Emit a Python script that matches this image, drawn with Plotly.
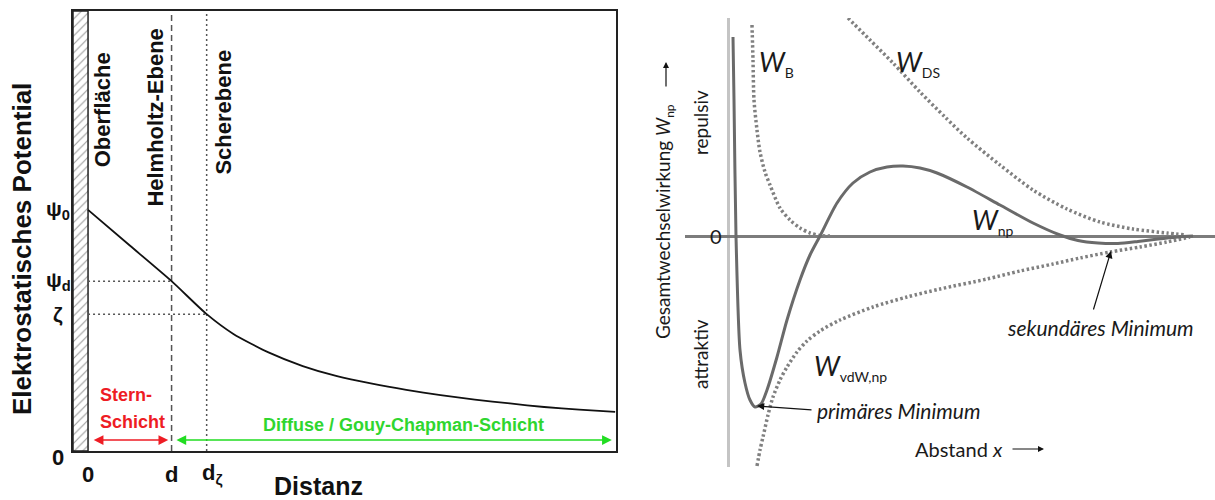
import plotly.graph_objects as go

W, H = 1215, 500
def px(x):
    return x / W
def py(y):
    return 1 - y / H

# ---------------- Left panel data (Stern model) ----------------
pot_x = [0.0, 0.5, 1.0, 1.42, 1.74, 2.16, 2.57, 2.98, 3.40, 3.81, 4.22, 4.63, 5.05, 5.46, 5.88, 6.31]
pot_y = [0.548, 0.467, 0.386, 0.311, 0.266, 0.224, 0.193, 0.170, 0.153, 0.139, 0.127, 0.117, 0.108, 0.100, 0.094, 0.089]
d_pos = 1.0
dz_pos = 1.42
psi0 = 0.548
psid = 0.386
zeta = 0.311
left_ytick_vals = [0.0, zeta, psid, psi0]
left_ytick_text = ["0", "ζ", "ψ<sub>d</sub>", "ψ<sub>0</sub>"]
left_xtick_vals = [0.0, d_pos, dz_pos]
left_xtick_text = ["0", "d", "d<sub>ζ</sub>"]
plane_labels = ["Oberfläche", "Helmholtz-Ebene", "Scherebene"]
plane_label_x = [0.17, 0.81, 1.62]
plane_label_y = [0.775, 0.757, 0.770]

# ---------------- Right panel data (DLVO) ----------------
wnp_x = [0.10, 0.12, 0.16, 0.24, 0.34, 0.44, 0.54, 0.66, 0.78, 0.98, 1.18, 1.44, 1.64, 1.84, 2.18, 2.50,
         2.84, 3.18, 3.50, 3.84, 4.18, 4.78, 5.44, 6.10, 6.64, 7.00, 7.40, 7.80, 8.20, 8.60, 9.00, 9.30]
wnp_y = [3.98, 2.72, 0.0, -2.28, -2.94, -3.28, -3.42, -3.36, -3.08, -2.42, -1.68, -0.88, -0.38, 0.0, 0.66, 1.06,
         1.28, 1.38, 1.40, 1.36, 1.26, 0.98, 0.62, 0.26, 0.02, -0.09, -0.14, -0.15, -0.11, -0.06, -0.02, 0.0]
wb_x = [0.48, 0.50, 0.52, 0.58, 0.64, 0.74, 0.84, 1.04, 1.24, 1.44, 1.64, 1.84, 2.04]
wb_y = [4.22, 3.52, 2.72, 2.12, 1.68, 1.28, 1.02, 0.56, 0.32, 0.16, 0.06, 0.01, 0.0]
wds_x = [2.40, 2.84, 3.30, 3.84, 4.34, 4.78, 5.44, 6.10, 6.78, 7.44, 8.10, 8.78, 9.14]
wds_y = [4.36, 3.92, 3.46, 2.88, 2.38, 1.96, 1.42, 0.92, 0.54, 0.28, 0.14, 0.06, 0.02]
wvdw_x = [0.58, 0.64, 0.70, 0.80, 0.90, 1.04, 1.18, 1.38, 1.58, 1.84, 2.24, 2.90, 3.58, 4.24, 5.18, 5.84,
          6.50, 7.04, 7.64, 8.24, 8.78, 9.24]
wvdw_y = [-4.60, -4.28, -4.02, -3.58, -3.22, -2.88, -2.62, -2.32, -2.10, -1.90, -1.68, -1.42, -1.22, -1.06,
          -0.86, -0.70, -0.56, -0.44, -0.32, -0.22, -0.12, -0.02]
prim_min = (0.58, -3.40)
sek_min = (7.66, -0.30)

fig = go.Figure()

# hatched surface strip
fig.add_trace(go.Scatter(x=[-0.18, 0, 0, -0.18, -0.18], y=[0, 0, 1, 1, 0], fill="toself",
                         fillcolor="white",
                         fillpattern=dict(shape="/", fgcolor="#333333", bgcolor="white", size=6, solidity=0.18),
                         line=dict(color="#222222", width=1.5), mode="lines",
                         xaxis="x", yaxis="y", hoverinfo="skip"))
# reference lines
fig.add_trace(go.Scatter(x=[d_pos, d_pos], y=[0, 1], mode="lines",
                         line=dict(color="#555555", width=1.5, dash="6px,4px"), xaxis="x", yaxis="y"))
fig.add_trace(go.Scatter(x=[dz_pos, dz_pos], y=[0, 1], mode="lines",
                         line=dict(color="#555555", width=1.5, dash="2px,3px"), xaxis="x", yaxis="y"))
fig.add_trace(go.Scatter(x=[0, d_pos], y=[psid, psid], mode="lines",
                         line=dict(color="#555555", width=1.5, dash="2px,3px"), xaxis="x", yaxis="y"))
fig.add_trace(go.Scatter(x=[0, dz_pos], y=[zeta, zeta], mode="lines",
                         line=dict(color="#555555", width=1.5, dash="2px,3px"), xaxis="x", yaxis="y"))
# potential curve
fig.add_trace(go.Scatter(x=pot_x, y=pot_y, mode="lines",
                         line=dict(color="#111111", width=1.8, shape="spline", smoothing=0.6),
                         xaxis="x", yaxis="y"))

# right panel curves
dotted = dict(color="#808080", width=3.5, dash="2.5px,2.5px", shape="spline", smoothing=0.8)
fig.add_trace(go.Scatter(x=wb_x, y=wb_y, mode="lines", line=dotted, xaxis="x2", yaxis="y2"))
fig.add_trace(go.Scatter(x=wds_x, y=wds_y, mode="lines", line=dotted, xaxis="x2", yaxis="y2"))
fig.add_trace(go.Scatter(x=wvdw_x, y=wvdw_y, mode="lines", line=dotted, xaxis="x2", yaxis="y2"))
fig.add_trace(go.Scatter(x=wnp_x, y=wnp_y, mode="lines",
                         line=dict(color="#6a6a6a", width=3, shape="spline", smoothing=0.7),
                         xaxis="x2", yaxis="y2"))

ann = []
def A(**kw):
    kw.setdefault("xanchor", "center")
    kw.setdefault("yanchor", "middle")
    kw.setdefault("showarrow", False)
    ann.append(kw)

BF = "Liberation Sans"
# left y tick labels
for v, t in zip(left_ytick_vals, left_ytick_text):
    A(x=px(58), xref="paper", y=v, yref="y", text=t,
      yshift=-6 if v == 0 else 0,
      font=dict(family=BF, size=22 if v == 0 else 21, color="#111", weight="bold"))
# left x tick labels
for i, (v, t) in enumerate(zip(left_xtick_vals, left_xtick_text)):
    A(x=v, xref="x", y=py(474), yref="paper", text=t,
      xanchor="left" if i == 2 else "center", xshift=-7 if i == 2 else 0,
      font=dict(family=BF, size=22, color="#111", weight="bold"))
# plane labels
for t, xv, yv in zip(plane_labels, plane_label_x, plane_label_y):
    A(x=xv, xref="x", y=yv, yref="y", text=t, textangle=-90,
      font=dict(family=BF, size=22, color="#111", weight="bold"))
# axis titles left
A(x=px(22), y=py(249), xref="paper", yref="paper", text="Elektrostatisches Potential",
  textangle=-90, font=dict(family=BF, size=26, color="#111", weight="bold"))
A(x=px(318), y=py(486), xref="paper", yref="paper", text="Distanz",
  font=dict(family=BF, size=25, color="#111", weight="bold"))
# Stern / diffuse layer
red = "#ee1c24"
green = "#22dd22"
A(x=px(98), y=py(395), xref="paper", yref="paper", text="Stern-", xanchor="left",
  font=dict(family=BF, size=18, color=red, weight="bold"))
A(x=px(98), y=py(422), xref="paper", yref="paper", text="Schicht", xanchor="left",
  font=dict(family=BF, size=18, color=red, weight="bold"))
A(x=px(403), y=py(425), xref="paper", yref="paper", text="Diffuse / Gouy-Chapman-Schicht",
  font=dict(family=BF, size=18, color="#2fd62f", weight="bold"))
arr_y = 0.025
ann.append(dict(x=0.96, y=arr_y, xref="x", yref="y", ax=0.05, ay=arr_y, axref="x", ayref="y", text="",
                showarrow=True, arrowside="end+start", arrowhead=2, startarrowhead=2, arrowsize=1.3,
                startarrowsize=1.3, arrowwidth=1.5, arrowcolor=red))
ann.append(dict(x=6.27, y=arr_y, xref="x", yref="y", ax=1.04, ay=arr_y, axref="x", ayref="y", text="",
                showarrow=True, arrowside="end+start", arrowhead=2, startarrowhead=2, arrowsize=1.3,
                startarrowsize=1.3, arrowwidth=1.5, arrowcolor=green))

# right panel texts
RF = "Lato"
TC = "#1a1a1a"
def wlabel(sub):
    return "<i>W</i><sub><span style='font-size:14px'>" + sub + "</span></sub>"
A(x=px(716), y=py(236), xref="paper", yref="paper", text="0", font=dict(family=RF, size=20, color=TC))
A(x=px(757), y=py(63), xref="paper", yref="paper", text=wlabel("B"), xanchor="left",
  font=dict(family=RF, size=27, color=TC))
A(x=px(894), y=py(63), xref="paper", yref="paper", text=wlabel("DS"), xanchor="left",
  font=dict(family=RF, size=27, color=TC))
A(x=px(970), y=py(221), xref="paper", yref="paper", text=wlabel("np"), xanchor="left",
  font=dict(family=RF, size=27, color=TC))
A(x=px(812), y=py(367), xref="paper", yref="paper", text=wlabel("vdW,np"), xanchor="left",
  font=dict(family=RF, size=27, color=TC))
A(x=px(815), y=py(410), xref="paper", yref="paper", text="<i>primäres Minimum</i>", xanchor="left",
  font=dict(family=RF, size=21, color=TC))
ann.append(dict(x=prim_min[0], y=prim_min[1], xref="x2", yref="y2", ax=1.70, ay=-3.48, axref="x2", ayref="y2",
                text="", showarrow=True, arrowhead=2, arrowsize=1.2, arrowwidth=1.2, arrowcolor="#111"))
A(x=px(1100), y=py(327), xref="paper", yref="paper", text="<i>sekundäres Minimum</i>",
  font=dict(family=RF, size=21, color=TC))
ann.append(dict(x=sek_min[0], y=sek_min[1], xref="x2", yref="y2", ax=7.30, ay=-1.50, axref="x2", ayref="y2",
                text="", showarrow=True, arrowhead=2, arrowsize=1.2, arrowwidth=1.2, arrowcolor="#111"))
A(x=px(913), y=py(449), xref="paper", yref="paper", text="Abstand <i>x</i>", xanchor="left",
  font=dict(family=RF, size=20, color=TC))
ann.append(dict(x=px(1044), y=py(449), xref="paper", yref="paper", ax=-33, ay=0, text="",
                showarrow=True, arrowhead=2, arrowsize=1.0, arrowwidth=1.2, arrowcolor="#111"))
A(x=px(664), y=py(222), xref="paper", yref="paper",
  text="Gesamtwechselwirkung <i>W</i><sub><span style='font-size:12px'>np</span></sub>",
  textangle=-90, font=dict(family=RF, size=19, color=TC))
ann.append(dict(x=px(666), y=py(62), xref="paper", yref="paper", ax=0, ay=26, text="",
                showarrow=True, arrowhead=2, arrowsize=1.0, arrowwidth=1.2, arrowcolor="#111"))
A(x=px(700), y=py(123), xref="paper", yref="paper", text="repulsiv", textangle=-90,
  font=dict(family=RF, size=19, color=TC))
A(x=px(700), y=py(354), xref="paper", yref="paper", text="attraktiv", textangle=-90,
  font=dict(family=RF, size=19, color=TC))

fig.update_layout(
    width=W, height=H, margin=dict(l=0, r=0, t=0, b=0),
    paper_bgcolor="white", plot_bgcolor="white", showlegend=False,
    xaxis=dict(domain=[px(73), px(616)], range=[-0.18, 6.32], showline=True, mirror=True,
               linecolor="#222", linewidth=2, showgrid=False, zeroline=False, showticklabels=False, ticks=""),
    yaxis=dict(domain=[py(451), py(11)], range=[0, 1], showline=True, mirror=True,
               linecolor="#222", linewidth=2, showgrid=False, zeroline=False, showticklabels=False, ticks=""),
    xaxis2=dict(domain=[px(685), 1.0], range=[-0.86, 9.74], showline=False, showgrid=False,
                zeroline=True, zerolinecolor="#c4c4c4", zerolinewidth=2.5, showticklabels=False, anchor="y2"),
    yaxis2=dict(domain=[py(467), py(18)], range=[-4.62, 4.36], showline=False, showgrid=False,
                zeroline=True, zerolinecolor="#7c7c7c", zerolinewidth=2.5, showticklabels=False, anchor="x2"),
    annotations=ann,
)

fig.write_html("out.html")
